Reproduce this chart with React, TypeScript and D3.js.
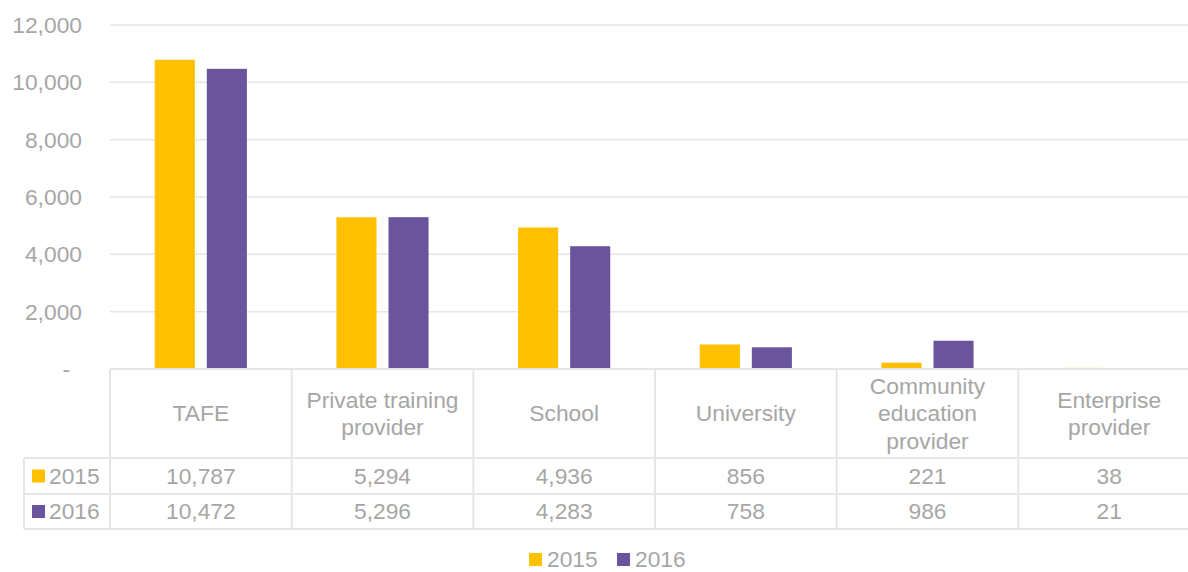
import React, { useRef, useEffect } from "react";
import * as d3 from "d3";

const categories = [
  ["TAFE"],
  ["Private training", "provider"],
  ["School"],
  ["University"],
  ["Community", "education", "provider"],
  ["Enterprise", "provider"],
];
const seriesNames = ["2015", "2016"];
const values2015 = [10787, 5294, 4936, 856, 221, 38];
const values2016 = [10472, 5296, 4283, 758, 986, 21];
const yTicks = [0, 2000, 4000, 6000, 8000, 10000, 12000];

const colors = ["#FFC000", "#6A559D"];
const textColor = "#A6A6A6";
const lineColor = "#E6E6E6";
const font = "'Liberation Sans', Arial, sans-serif";
const fontSize = "22.8px";

const W = 1188;
const H = 572;

const App = () => {
  const svgRef = useRef<SVGSVGElement>(null);

  useEffect(() => {
    const svg = d3.select(svgRef.current);
    svg.selectAll("*").remove();

    const idx = categories.map((_, i) => String(i));
    const x = d3.scaleBand().domain(idx).range([110, 1200]).padding(0);
    const xi = d3
      .scaleBand()
      .domain(seriesNames)
      .range([0, x.bandwidth()])
      .paddingInner(0.23)
      .paddingOuter(0.86);
    const y = d3.scaleLinear().domain([0, 12000]).range([369, 25]);

    const headerBottom = 458;
    const row1Bottom = 494;
    const row2Bottom = 529;
    const legendLeft = 24;

    // gridlines
    svg
      .append("g")
      .selectAll("line")
      .data(yTicks.filter((t) => t > 0))
      .enter()
      .append("line")
      .attr("x1", 110)
      .attr("x2", 1200)
      .attr("y1", (d) => y(d))
      .attr("y2", (d) => y(d))
      .attr("stroke", lineColor)
      .attr("stroke-width", 1.5);

    // y tick labels
    svg
      .append("g")
      .selectAll("text")
      .data(yTicks)
      .enter()
      .append("text")
      .attr("x", (d) => (d === 0 ? 70 : 82))
      .attr("y", (d) => y(d))
      .attr("dy", "0.35em")
      .attr("text-anchor", "end")
      .style("font-family", font)
      .style("font-size", fontSize)
      .style("fill", textColor)
      .text((d) => (d === 0 ? "-" : d3.format(",")(d)));

    // bars
    const allValues = [values2015, values2016];
    allValues.forEach((vals, si) => {
      svg
        .append("g")
        .selectAll("rect")
        .data(vals)
        .enter()
        .append("rect")
        .attr("x", (_, i) => (x(String(i)) as number) + (xi(seriesNames[si]) as number))
        .attr("y", (d) => y(d))
        .attr("width", xi.bandwidth())
        .attr("height", (d) => y(0) - y(d))
        .attr("fill", colors[si]);
    });

    // data table lines
    const tl = svg.append("g").attr("stroke", lineColor).attr("stroke-width", 2);
    tl.append("line").attr("x1", 110).attr("x2", 1200).attr("y1", y(0)).attr("y2", y(0));
    [headerBottom, row1Bottom, row2Bottom].forEach((yy) => {
      tl.append("line").attr("x1", legendLeft).attr("x2", 1200).attr("y1", yy).attr("y2", yy);
    });
    tl.append("line").attr("x1", legendLeft).attr("x2", legendLeft).attr("y1", headerBottom).attr("y2", row2Bottom);
    d3.range(categories.length + 1).forEach((i) => {
      const xx = 110 + i * x.step();
      tl.append("line").attr("x1", xx).attr("x2", xx).attr("y1", y(0)).attr("y2", row2Bottom);
    });

    // header labels
    const headerMid = (y(0) + headerBottom) / 2;
    const lineH = 27.5;
    categories.forEach((lines, i) => {
      const cx = (x(String(i)) as number) + x.bandwidth() / 2;
      const t = svg
        .append("text")
        .attr("text-anchor", "middle")
        .style("font-family", font)
        .style("font-size", fontSize)
        .style("fill", textColor);
      lines.forEach((ln, li) => {
        t.append("tspan")
          .attr("x", cx)
          .attr("y", headerMid + (li - (lines.length - 1) / 2) * lineH)
          .attr("dy", "0.35em")
          .text(ln);
      });
    });

    // value rows
    const rowMids = [(headerBottom + row1Bottom) / 2, (row1Bottom + row2Bottom) / 2];
    allValues.forEach((vals, si) => {
      const ry = rowMids[si];
      svg
        .append("rect")
        .attr("x", 32)
        .attr("y", ry - 6.5)
        .attr("width", 13)
        .attr("height", 13)
        .attr("fill", colors[si]);
      svg
        .append("text")
        .attr("x", 49)
        .attr("y", ry)
        .attr("dy", "0.35em")
        .style("font-family", font)
        .style("font-size", fontSize)
        .style("fill", textColor)
        .text(seriesNames[si]);
      svg
        .append("g")
        .selectAll("text")
        .data(vals)
        .enter()
        .append("text")
        .attr("x", (_, i) => (x(String(i)) as number) + x.bandwidth() / 2)
        .attr("y", ry)
        .attr("dy", "0.35em")
        .attr("text-anchor", "middle")
        .style("font-family", font)
        .style("font-size", fontSize)
        .style("fill", textColor)
        .text((d) => d3.format(",")(d));
    });

    // bottom legend
    const legendX = [529, 617];
    seriesNames.forEach((name, si) => {
      svg
        .append("rect")
        .attr("x", legendX[si])
        .attr("y", 553)
        .attr("width", 13)
        .attr("height", 13)
        .attr("fill", colors[si]);
      svg
        .append("text")
        .attr("x", legendX[si] + 18)
        .attr("y", 559)
        .attr("dy", "0.35em")
        .style("font-family", font)
        .style("font-size", fontSize)
        .style("fill", textColor)
        .text(name);
    });
  }, []);

  return (
    <div style={{ position: "absolute", left: 0, top: 0, width: W, height: H, background: "white" }}>
      <svg ref={svgRef} width={W} height={H} />
    </div>
  );
};

export default App;
